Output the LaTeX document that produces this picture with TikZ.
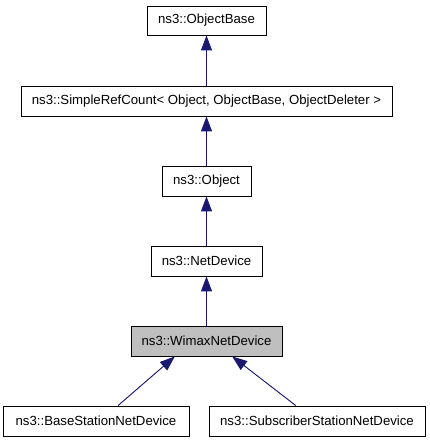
\documentclass[tikz,border=0pt]{standalone}
\usepackage{fontspec}
\setmainfont{Liberation Sans}
\usepackage{tikz}
\usetikzlibrary{arrows.meta, positioning}
\definecolor{edgeblue}{HTML}{191970}
\definecolor{boxgray}{HTML}{BFBFBF}
\tikzset{>={Triangle[length=15pt,width=11pt]}}
\tikzset{cls/.style={draw, line width=0.9pt, minimum height=30pt, inner sep=0pt, font=\fontsize{13.2}{15}\selectfont},
         inh/.style={->, draw=edgeblue, fill=edgeblue, line width=0.9pt}}

\begin{document}
\begin{tikzpicture}[x=1pt, y=1pt]
        \useasboundingbox (0,0) rectangle (429,443);
        \node[cls, minimum width=119pt, minimum height=29pt] (obase) at (206.5,422.5) {ns3::ObjectBase};
        \node[cls, minimum width=371pt] (srcount) at (206.5,342) {ns3::SimpleRefCount< Object, ObjectBase, ObjectDeleter >};
        \node[cls, minimum width=89pt] (obj) at (206.5,262) {ns3::Object};
        \node[cls, minimum width=111pt] (netdev) at (206.5,182) {ns3::NetDevice};
        \node[cls, minimum width=151pt, fill=boxgray] (wimax) at (206.5,102) {ns3::WimaxNetDevice};
        \node[cls, minimum width=186pt] (bsdev) at (96,22) {ns3::BaseStationNetDevice};
        \node[cls, minimum width=216pt] (ssdev) at (317,22) {ns3::SubscriberStationNetDevice};

        \draw[inh] (srcount) -- (obase);
        \draw[inh] (obj) -- (srcount);
        \draw[inh] (netdev) -- (obj);
        \draw[inh] (wimax) -- (netdev);
        \draw[inh] (bsdev.35.5) -- (wimax.206);
        \draw[inh] (ssdev.144.5) -- (wimax.329.5);
\end{tikzpicture}
\end{document}
